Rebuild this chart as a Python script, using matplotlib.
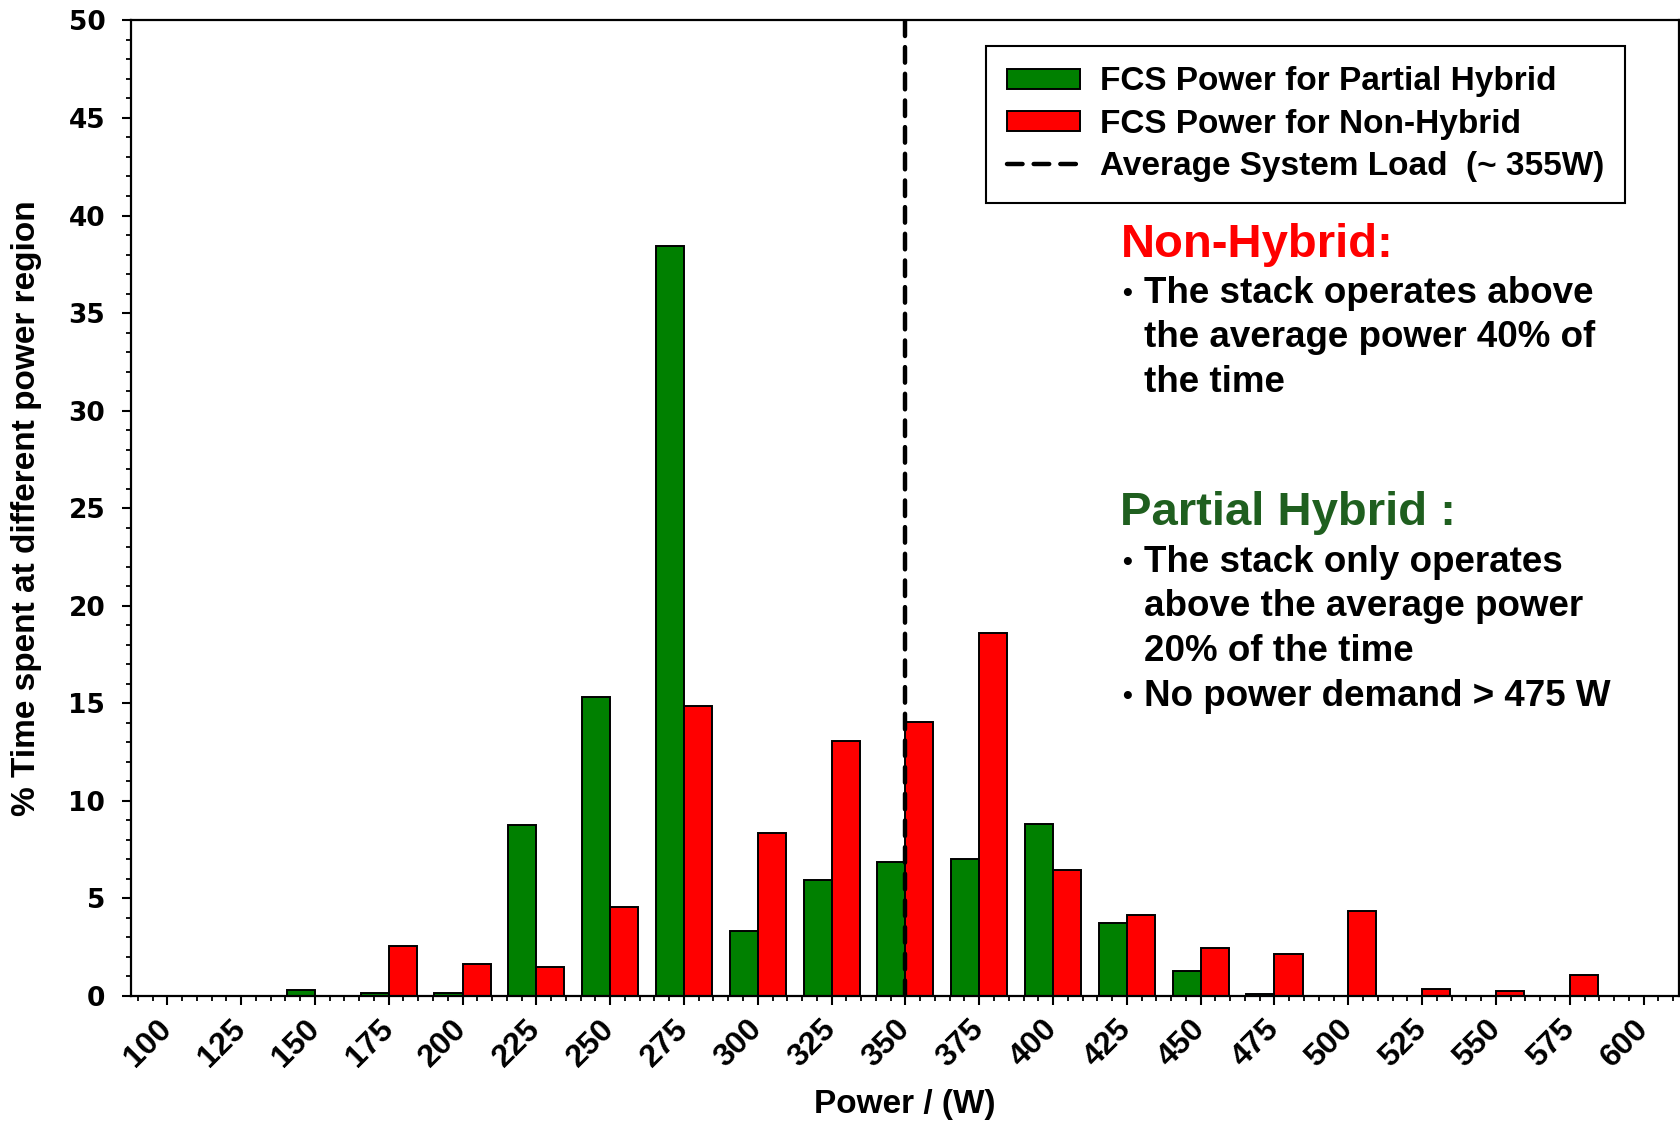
import numpy as np
import matplotlib
matplotlib.use("Agg")
import matplotlib.pyplot as plt
from matplotlib.ticker import MultipleLocator

# power bins (W) and % time spent in each bin
power_bins = [100, 125, 150, 175, 200, 225, 250, 275, 300, 325, 350,
              375, 400, 425, 450, 475, 500, 525, 550, 575, 600]
partial_hybrid = [0, 0, 0.32, 0.14, 0.14, 8.78, 15.30, 38.45, 3.32, 5.95, 6.88,
                  7.03, 8.83, 3.73, 1.30, 0.09, 0, 0, 0, 0, 0]
non_hybrid = [0, 0, 0, 2.55, 1.62, 1.50, 4.55, 14.88, 8.33, 13.05, 14.04,
              18.60, 6.43, 4.14, 2.46, 2.15, 4.36, 0.36, 0.24, 1.06, 0]
avg_load = 350

labels = ["FCS Power for Partial Hybrid", "FCS Power for Non-Hybrid",
          "Average System Load  (~ 355W)"]

ARIAL = "Liberation Sans"

fig = plt.figure(figsize=(16.81, 11.22), dpi=100)
ax = fig.add_axes([0.0779, 0.1124, 0.9209, 0.8694])

x = np.array(power_bins)
w = 9.5
b1 = ax.bar(x - w / 2, partial_hybrid, width=w, color="#008000", edgecolor="black",
            linewidth=1.4, label=labels[0], zorder=2)
b2 = ax.bar(x + w / 2, non_hybrid, width=w, color="#FF0000", edgecolor="black",
            linewidth=1.4, label=labels[1], zorder=2)
ln = ax.axvline(avg_load, color="black", lw=3.2, linestyle=(0, (3.5, 2.5)),
                dash_capstyle="round", label=labels[2], zorder=3)

ax.set_xlim(87.7, 612)
ax.set_ylim(0, 50)
ax.set_xticks(power_bins, [str(p) for p in power_bins])
ax.xaxis.set_minor_locator(MultipleLocator(5))
ax.yaxis.set_major_locator(MultipleLocator(5))
ax.yaxis.set_minor_locator(MultipleLocator(1))
ax.tick_params(which="major", direction="out", length=6.5, width=1.5)
ax.tick_params(which="minor", direction="out", length=3.6, width=1.3)
ax.tick_params(axis="y", which="major", pad=12, labelsize=19)
ax.tick_params(axis="x", which="major", pad=14, labelsize=23, labelrotation=45)
for sp in ax.spines.values():
    sp.set_linewidth(1.6)

plt.setp(ax.get_xticklabels(), ha="right", va="center", rotation_mode="anchor",
         family=ARIAL, weight="bold", fontsize=23)
plt.setp(ax.get_yticklabels(), family="DejaVu Sans", weight="bold", fontsize=19)

ax.set_xlabel("Power / (W)", family=ARIAL, weight="bold", size=24)
ax.xaxis.set_label_coords(0.5, -0.111)
ax.xaxis.label.set_va("center")
ax.set_ylabel("% Time spent at different power region",
              family=["Liberation Sans Narrow", ARIAL], weight="bold", size=24)
ax.yaxis.set_label_coords(-0.0672, 0.5)
ax.yaxis.label.set_va("center")

leg = ax.legend(handles=[b1, b2, ln], loc="upper right", bbox_to_anchor=(0.965, 0.974),
                prop=dict(family=ARIAL, weight="bold", size=24), frameon=True,
                fancybox=False, edgecolor="black", framealpha=1, handlelength=2.2,
                handleheight=0.55, handletextpad=0.6, borderpad=0.62,
                labelspacing=0.34, borderaxespad=0)
leg.get_frame().set_linewidth(1.5)

# annotation text on the right
fig.text(0.6665, 0.782, "Non-Hybrid:", color="#FF0000", family=ARIAL,
         weight="bold", size=34, va="center")
fig.text(0.6665, 0.5432, "Partial Hybrid :", color="#1f5f1f", family=ARIAL,
         weight="bold", size=34, va="center")

lines = [("The stack operates above", 0.7381, True),
         ("the average power 40% of", 0.6990, False),
         ("the time", 0.6588, False),
         ("The stack only operates", 0.4983, True),
         ("above the average power", 0.4592, False),
         ("20% of the time", 0.4190, False),
         ("No power demand > 475 W", 0.3788, True)]
for txt, yy, bullet in lines:
    fig.text(0.6805, yy, txt, family=ARIAL, weight="bold", size=26.5, va="center")
    if bullet:
        fig.text(0.6677, yy, "\u2022", family=ARIAL, weight="bold", size=20, va="center")

fig.savefig("out.png", dpi=100, facecolor="white")
